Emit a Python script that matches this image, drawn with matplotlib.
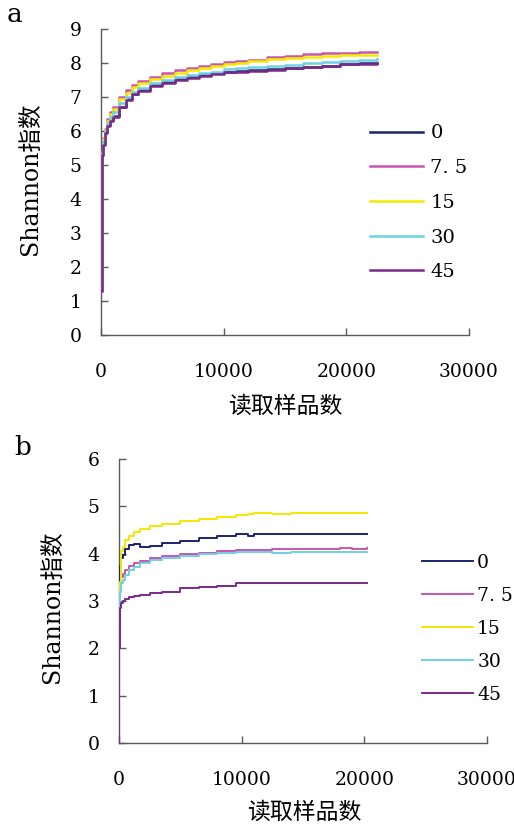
import numpy as np
import matplotlib
matplotlib.use('Agg')
import matplotlib.pyplot as plt

plt.rcParams['font.family'] = ['DejaVu Serif', 'Noto Sans CJK SC']

# Panel a: reads sampled vs Shannon index
reads_a = [0, 50, 100, 200, 300, 500, 700, 1000, 1500, 2000, 2500, 3000, 4000, 5000,
           6000, 7000, 8000, 9000, 10000, 11000, 12000, 13500, 15000, 16500, 18000,
           19500, 21000, 22500]
a_0 = [1.3, 4.0, 5.3, 5.65, 5.97, 6.17, 6.32, 6.45, 6.72, 6.94, 7.1, 7.2, 7.34, 7.44,
       7.52, 7.58, 7.64, 7.7, 7.75, 7.77, 7.79, 7.82, 7.86, 7.89, 7.92, 7.97, 7.99, 8.0]
a_75 = [1.3, 4.2, 5.4, 5.8, 6.05, 6.35, 6.55, 6.7, 7.0, 7.2, 7.35, 7.47, 7.6, 7.7,
        7.78, 7.85, 7.9, 7.97, 8.03, 8.06, 8.1, 8.18, 8.22, 8.26, 8.28, 8.3, 8.31, 8.31]
a_15 = [1.3, 4.1, 5.35, 5.75, 6.02, 6.3, 6.5, 6.65, 6.93, 7.13, 7.28, 7.4, 7.53, 7.63,
        7.71, 7.78, 7.84, 7.9, 7.97, 8.01, 8.05, 8.11, 8.15, 8.18, 8.21, 8.23, 8.24, 8.24]
a_30 = [1.3, 4.05, 5.3, 5.7, 6.0, 6.25, 6.42, 6.55, 6.82, 7.0, 7.15, 7.26, 7.4, 7.5,
        7.58, 7.64, 7.7, 7.75, 7.81, 7.84, 7.87, 7.9, 7.95, 7.99, 8.03, 8.06, 8.1, 8.11]
a_45 = [1.3, 4.0, 5.3, 5.6, 5.95, 6.15, 6.3, 6.42, 6.7, 6.92, 7.08, 7.18, 7.32, 7.42,
        7.5, 7.56, 7.62, 7.68, 7.73, 7.75, 7.77, 7.8, 7.84, 7.87, 7.9, 7.96, 7.98, 8.0]

# Panel b
reads_b = [0, 30, 60, 100, 150, 200, 300, 500, 800, 1200, 1700, 2500, 3500, 5000,
           6500, 8000, 9500, 10500, 11000, 12500, 14000, 16000, 18000, 19000, 20200]
b_0 = [0, 2.8, 3.6, 3.75, 3.85, 3.9, 3.98, 4.1, 4.18, 4.2, 4.14, 4.17, 4.22, 4.27,
       4.33, 4.38, 4.42, 4.37, 4.42, 4.42, 4.42, 4.42, 4.42, 4.42, 4.42]
b_75 = [0, 2.6, 3.2, 3.35, 3.45, 3.5, 3.57, 3.65, 3.73, 3.8, 3.85, 3.9, 3.95, 3.99,
        4.02, 4.05, 4.08, 4.08, 4.08, 4.09, 4.09, 4.1, 4.13, 4.1, 4.12]
b_15 = [0, 2.5, 3.3, 3.4, 3.9, 4.05, 4.15, 4.28, 4.38, 4.45, 4.52, 4.58, 4.63, 4.68,
        4.74, 4.78, 4.82, 4.84, 4.86, 4.84, 4.86, 4.86, 4.86, 4.86, 4.86]
b_30 = [0, 2.5, 3.0, 3.2, 3.3, 3.38, 3.45, 3.55, 3.65, 3.72, 3.8, 3.86, 3.91, 3.96,
        3.99, 4.01, 4.03, 4.03, 4.03, 4.01, 4.04, 4.04, 4.04, 4.04, 4.04]
b_45 = [0, 2.0, 2.7, 2.85, 2.92, 2.96, 3.0, 3.05, 3.08, 3.1, 3.12, 3.16, 3.2, 3.27,
        3.3, 3.32, 3.38, 3.38, 3.38, 3.38, 3.38, 3.38, 3.38, 3.38, 3.38]

labels = ['0', '7. 5', '15', '30', '45']
colors = ['#1c2470', '#c856b0', '#f2ea00', '#6fd0e2', '#7a2a88']
x_ticks = [0, 10000, 20000, 30000]

W, H = 514, 825
fig = plt.figure(figsize=(W / 100, H / 100), dpi=100)


def add_axes_px(left, top, right, bottom):
    return fig.add_axes([left / W, 1 - bottom / H, (right - left) / W, (bottom - top) / H])


def style_axes(ax, ymax):
    for side in ['top', 'right']:
        ax.spines[side].set_visible(False)
    for side in ['left', 'bottom']:
        ax.spines[side].set_color('#5a5a5a')
        ax.spines[side].set_linewidth(1.0)
    ax.set_xlim(0, 30000)
    ax.set_ylim(0, ymax)
    ax.set_xticks(x_ticks)
    ax.set_xticklabels([str(t) for t in x_ticks])
    ax.set_yticks(range(ymax + 1))
    ax.tick_params(direction='in', length=5, width=1, color='#5a5a5a', labelsize=13.5)
    ax.tick_params(axis='x', pad=20)
    ax.tick_params(axis='y', pad=14)


# panel a
ax1 = add_axes_px(101, 29, 469, 335)
for ys, c, lab in zip([a_0, a_75, a_15, a_30, a_45], colors, labels):
    ax1.plot(reads_a, ys, color=c, lw=1.8, drawstyle='steps-post', label=lab, zorder=3)
style_axes(ax1, 9)
ax1.legend(loc='center left', bbox_to_anchor=(0.731, 0.432), frameon=False,
           fontsize=14, handlelength=2.75, handletextpad=0.35, labelspacing=0.86,
           borderpad=0, borderaxespad=0)

# panel b
ax2 = add_axes_px(119, 459, 487, 743)
for ys, c, lab in zip([b_0, b_75, b_15, b_30, b_45], colors, labels):
    ax2.plot(reads_b, ys, color=c, lw=1.4, drawstyle='steps-post', label=lab, zorder=3)
style_axes(ax2, 6)
ax2.legend(loc='center left', bbox_to_anchor=(0.823, 0.403), frameon=False,
           fontsize=13.5, handlelength=2.75, handletextpad=0.2, labelspacing=0.8,
           borderpad=0, borderaxespad=0)

# labels
def fig_text(x, y, s, **kw):
    fig.text(x / W, 1 - y / H, s, ha='center', va='center', **kw)

fig_text(15, 15, 'a', fontsize=19)
fig_text(23, 447, 'b', fontsize=19)
fig_text(30, 179, 'Shannon指数', fontsize=17, rotation=90)
fig_text(52, 607, 'Shannon指数', fontsize=17, rotation=90)
fig_text(285, 407, '读取样品数', fontsize=16.5)
fig_text(304, 813, '读取样品数', fontsize=16.5)

fig.savefig('out.png', dpi=100)
